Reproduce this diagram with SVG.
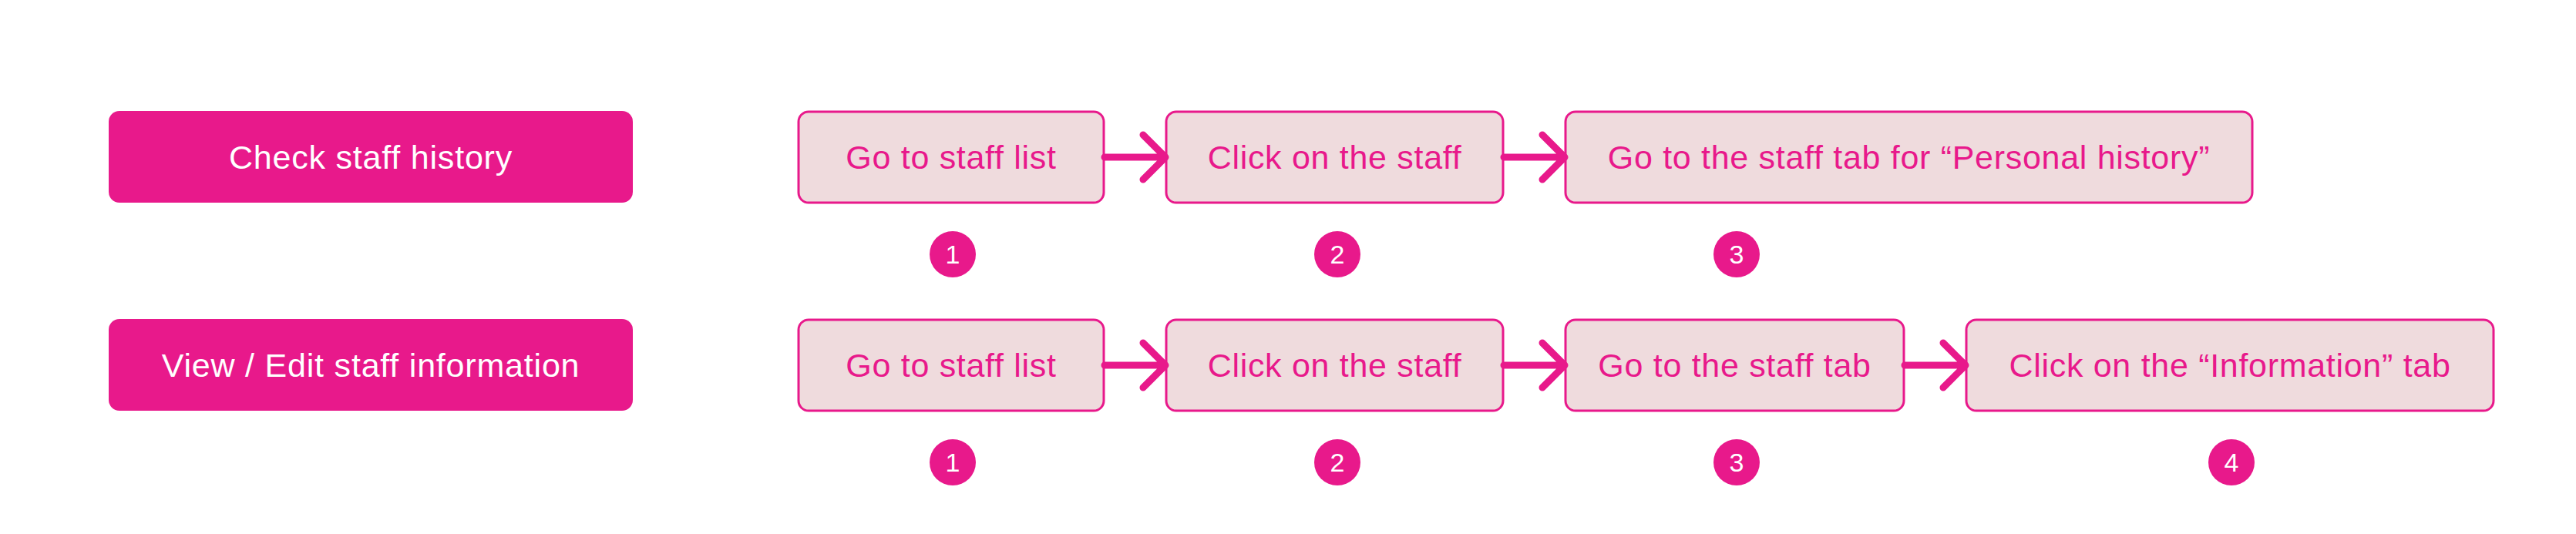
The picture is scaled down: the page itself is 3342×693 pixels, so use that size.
<svg xmlns="http://www.w3.org/2000/svg" width="3342" height="693" viewBox="0 0 3342 693">
<defs>
<style>
.cat{fill:#E8198B;}
.cat-t{fill:#FFFFFF;font-family:"Liberation Sans",Arial,sans-serif;font-size:43px;letter-spacing:0.8px;text-anchor:middle;}
.step{fill:#EFDBDD;stroke:#E8198B;stroke-width:3;}
.step-t{fill:#E8198B;font-family:"Liberation Sans",Arial,sans-serif;font-size:43px;letter-spacing:0.7px;text-anchor:middle;}
.num{fill:#E8198B;}
.num-t{fill:#FFFFFF;font-family:"Liberation Sans",Arial,sans-serif;font-size:34px;text-anchor:middle;}
.conn{fill:none;stroke:#E8198B;stroke-width:9;stroke-linecap:round;stroke-linejoin:round;}
</style>
</defs>
<rect width="3342" height="693" fill="#FFFFFF"/>

<g id="cat-history">
<rect class="cat" x="141" y="144" width="680" height="119" rx="14"/>
<text class="cat-t" x="481" y="219">Check staff history</text>
</g>
<g id="cat-info">
<rect class="cat" x="141" y="414" width="680" height="119" rx="14"/>
<text class="cat-t" x="481" y="489">View / Edit staff information</text>
</g>

<g id="r1-s1">
<rect class="step" x="1036" y="145" width="396" height="118" rx="13"/>
<text class="step-t" x="1234" y="219">Go to staff list</text>
</g>
<g id="r1-s2">
<rect class="step" x="1513" y="145" width="437" height="118" rx="13"/>
<text class="step-t" x="1731.5" y="219">Click on the staff</text>
</g>
<g id="r1-s3">
<rect class="step" x="2031" y="145" width="891" height="118" rx="13"/>
<text class="step-t" x="2476.5" y="219">Go to the staff tab for “Personal history”</text>
</g>

<g id="r2-s1">
<rect class="step" x="1036" y="415" width="396" height="118" rx="13"/>
<text class="step-t" x="1234" y="489">Go to staff list</text>
</g>
<g id="r2-s2">
<rect class="step" x="1513" y="415" width="437" height="118" rx="13"/>
<text class="step-t" x="1731.5" y="489">Click on the staff</text>
</g>
<g id="r2-s3">
<rect class="step" x="2031" y="415" width="439" height="118" rx="13"/>
<text class="step-t" x="2250.5" y="489">Go to the staff tab</text>
</g>
<g id="r2-s4">
<rect class="step" x="2551" y="415" width="684" height="118" rx="13"/>
<text class="step-t" x="2893" y="489">Click on the “Information” tab</text>
</g>

<g id="r1-n1"><circle class="num" cx="1236" cy="330" r="30"/><text class="num-t" x="1236" y="342">1</text></g>
<g id="r1-n2"><circle class="num" cx="1735" cy="330" r="30"/><text class="num-t" x="1735" y="342">2</text></g>
<g id="r1-n3"><circle class="num" cx="2253" cy="330" r="30"/><text class="num-t" x="2253" y="342">3</text></g>
<g id="r2-n1"><circle class="num" cx="1236" cy="600" r="30"/><text class="num-t" x="1236" y="612">1</text></g>
<g id="r2-n2"><circle class="num" cx="1735" cy="600" r="30"/><text class="num-t" x="1735" y="612">2</text></g>
<g id="r2-n3"><circle class="num" cx="2253" cy="600" r="30"/><text class="num-t" x="2253" y="612">3</text></g>
<g id="r2-n4"><circle class="num" cx="2895" cy="600" r="30"/><text class="num-t" x="2895" y="612">4</text></g>

<g id="connectors">
<path class="conn" d="M1433 204 H1510 M1483 175 L1512 204 L1483 233"/>
<path class="conn" d="M1951 204 H2028 M2001 175 L2030 204 L2001 233"/>
<path class="conn" d="M1433 474 H1510 M1483 445 L1512 474 L1483 503"/>
<path class="conn" d="M1951 474 H2028 M2001 445 L2030 474 L2001 503"/>
<path class="conn" d="M2471 474 H2548 M2521 445 L2550 474 L2521 503"/>
</g>
</svg>
